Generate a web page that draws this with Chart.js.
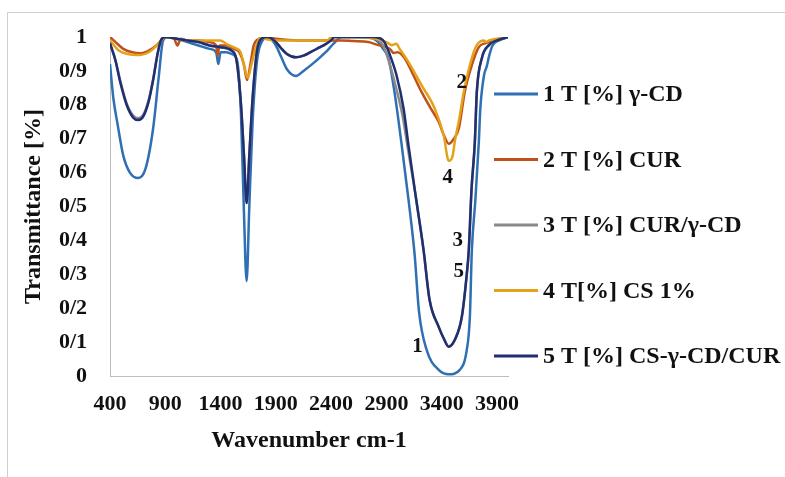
<!DOCTYPE html>
<html>
<head>
<meta charset="utf-8">
<script src="https://cdn.jsdelivr.net/npm/chart.js@4.4.1/dist/chart.umd.min.js"></script>
<style>
  html, body { margin: 0; padding: 0; background: #fff; }
  #wrap { width: 785px; height: 477px; position: relative; }
</style>
</head>
<body>
<div id="wrap"><canvas id="ftirChart"></canvas></div>
<script>
// FTIR spectra, transmittance vs wavenumber
const seriesNames = ['1 T [%] γ-CD', '2 T [%] CUR', '3 T [%] CUR/γ-CD', '4 T[%] CS 1%', '5 T [%] CS-γ-CD/CUR'];
const seriesColors = ['#2f6fb3', '#c0501a', '#8a8a8a', '#e3a21a', '#1f2f72'];

const xTicks = [400, 900, 1400, 1900, 2400, 2900, 3400, 3900];
const yTickLabels = ['0', '0/1', '0/2', '0/3', '0/4', '0/5', '0/6', '0/7', '0/8', '0/9', '1'];

// 1 - gamma-CD
const wnGammaCD = [400, 430, 470, 520, 580, 655, 720, 790, 840, 880, 920, 1000, 1100, 1200, 1300, 1360, 1380, 1400,
  1450, 1500, 1550, 1585, 1610, 1636, 1660, 1690, 1730, 1780, 1830, 1900, 1950, 2000, 2082, 2150, 2218, 2300,
  2380, 2420, 2500, 2600, 2700, 2780, 2827, 2870, 2918, 2973, 3035, 3100, 3155, 3195, 3264, 3373, 3464, 3564,
  3627, 3655, 3673, 3705, 3736, 3750, 3782, 3809, 3830, 3860, 3920, 4000];
const tGammaCD = [0.92, 0.82, 0.74, 0.65, 0.60, 0.584, 0.61, 0.73, 0.88, 0.99, 1.0, 0.995, 0.985, 0.975, 0.965, 0.955, 0.92, 0.955,
  0.955, 0.95, 0.93, 0.77, 0.5, 0.28, 0.5, 0.75, 0.93, 0.99, 1.0, 0.975, 0.94, 0.905, 0.885, 0.9, 0.917, 0.94,
  0.965, 0.98, 1.0, 1.0, 1.0, 0.995, 0.985, 0.965, 0.938, 0.838, 0.69, 0.52, 0.36, 0.19, 0.077, 0.018, 0.005, 0.018,
  0.077, 0.174, 0.37, 0.52, 0.69, 0.79, 0.885, 0.915, 0.945, 0.975, 0.99, 1.0];

// 2 - curcumin
const wnCur = [400, 450, 520, 600, 673, 750, 820, 880, 920, 980, 1010, 1040, 1100, 1200, 1300, 1360, 1373, 1390,
  1450, 1520, 1570, 1610, 1640, 1670, 1700, 1750, 1800, 1900, 2100, 2300, 2490, 2600, 2736, 2827, 2900, 2940,
  2964, 3000, 3064, 3140, 3218, 3300, 3373, 3420, 3464, 3510, 3555, 3609, 3673, 3736, 3800, 3900, 4000];
const tCur = [1.0, 0.985, 0.965, 0.955, 0.952, 0.96, 0.975, 0.995, 1.0, 0.995, 0.975, 0.995, 0.99, 0.99, 0.985, 0.975, 0.945, 0.975,
  0.975, 0.965, 0.955, 0.92, 0.873, 0.92, 0.975, 0.995, 1.0, 0.995, 0.99, 0.99, 0.99, 0.988, 0.985, 0.976, 0.97, 0.962,
  0.953, 0.955, 0.938, 0.89, 0.838, 0.79, 0.75, 0.71, 0.685, 0.70, 0.73, 0.838, 0.917, 0.97, 0.982, 0.99, 1.0];

// 3 - CUR/gamma-CD complex
const wnComplex = [400, 450, 490, 550, 610, 655, 700, 750, 790, 830, 860, 900, 1000, 1100, 1200, 1300, 1400, 1500,
  1545, 1585, 1612, 1636, 1660, 1690, 1730, 1770, 1830, 1900, 1945, 2000, 2082, 2150, 2218, 2300, 2336, 2400,
  2430, 2600, 2780, 2830, 2870, 2930, 2980, 3045, 3095, 3170, 3236, 3291, 3373, 3420, 3464, 3518, 3582, 3627,
  3645, 3670, 3700, 3718, 3764, 3827, 3900, 4000];
const tComplex = [0.98, 0.93, 0.875, 0.805, 0.768, 0.76, 0.77, 0.815, 0.875, 0.95, 0.99, 1.0, 0.995, 0.99, 0.985, 0.975, 0.97, 0.96,
  0.93, 0.8, 0.65, 0.51, 0.65, 0.82, 0.96, 0.995, 1.0, 0.985, 0.968, 0.95, 0.94, 0.945, 0.956, 0.97, 0.976, 0.99,
  1.0, 1.0, 1.0, 0.99, 0.975, 0.92, 0.86, 0.77, 0.67, 0.52, 0.372, 0.224, 0.145, 0.11, 0.088, 0.106, 0.174, 0.3,
  0.37, 0.55, 0.69, 0.838, 0.938, 0.976, 0.99, 1.0];

// 4 - chitosan 1%
const wnChitosan = [400, 480, 560, 673, 750, 827, 880, 900, 1000, 1100, 1200, 1300, 1400, 1450, 1530, 1580, 1610, 1645,
  1680, 1720, 1764, 1800, 1900, 2100, 2300, 2370, 2400, 2600, 2800, 2900, 2950, 2990, 3020, 3100, 3218, 3336,
  3418, 3464, 3500, 3518, 3560, 3600, 3673, 3718, 3782, 3800, 3830, 3900, 4000];
const tChitosan = [0.99, 0.96, 0.95, 0.947, 0.955, 0.976, 0.995, 1.0, 0.995, 0.99, 0.99, 0.99, 0.99, 0.98, 0.968, 0.956, 0.92, 0.88,
  0.92, 0.97, 1.0, 0.995, 0.99, 0.99, 0.99, 0.99, 1.0, 1.0, 0.995, 0.985, 0.976, 0.98, 0.965, 0.926, 0.858, 0.79,
  0.71, 0.635, 0.65, 0.69, 0.76, 0.838, 0.938, 0.976, 0.99, 0.985, 0.99, 0.995, 1.0];

// 5 - CS-gamma-CD/CUR
const wnComposite = [400, 450, 490, 550, 610, 655, 700, 750, 790, 830, 860, 900, 1000, 1100, 1200, 1300, 1400, 1500,
  1545, 1585, 1612, 1636, 1660, 1690, 1730, 1770, 1830, 1900, 1945, 2000, 2082, 2150, 2218, 2300, 2336, 2400,
  2430, 2600, 2780, 2850, 2882, 2940, 2991, 3055, 3100, 3170, 3236, 3291, 3373, 3420, 3464, 3518, 3582, 3627,
  3645, 3670, 3700, 3718, 3764, 3827, 3900, 4000];
const tComposite = [0.982, 0.93, 0.87, 0.8, 0.762, 0.755, 0.765, 0.81, 0.873, 0.95, 0.99, 1.0, 0.995, 0.99, 0.985, 0.975, 0.97, 0.96,
  0.93, 0.8, 0.65, 0.51, 0.65, 0.82, 0.96, 0.995, 1.0, 0.985, 0.968, 0.95, 0.94, 0.945, 0.956, 0.97, 0.976, 0.99,
  1.0, 1.0, 1.0, 0.995, 0.985, 0.94, 0.888, 0.79, 0.68, 0.52, 0.372, 0.224, 0.145, 0.11, 0.086, 0.106, 0.174, 0.3,
  0.37, 0.55, 0.69, 0.838, 0.938, 0.976, 0.99, 1.0];

// little curve numbers written on the big O-H band
const tagText = ['1', '2', '3', '4', '5'];
const tagWn = [3182, 3582, 3545, 3455, 3555];
const tagT = [0.088, 0.867, 0.40, 0.584, 0.307];

const serif = '"Liberation Serif", "Times New Roman", serif';
const wnSets = [wnGammaCD, wnCur, wnComplex, wnChitosan, wnComposite];
const tSets = [tGammaCD, tCur, tComplex, tChitosan, tComposite];

const datasets = seriesNames.map((name, i) => ({
  label: name,
  data: wnSets[i].map((w, k) => ({ x: w, y: tSets[i][k] })),
  borderColor: seriesColors[i],
  backgroundColor: seriesColors[i],
  borderWidth: 2.5,
  pointRadius: 0,
  cubicInterpolationMode: 'monotone',
  order: seriesNames.length - 1 - i
}));

const framePlugin = {
  id: 'frame',
  beforeDraw(chart) {
    const ctx = chart.ctx;
    ctx.save();
    ctx.strokeStyle = '#cfcfcf';
    ctx.lineWidth = 1;
    ctx.beginPath();
    ctx.moveTo(7.5, chart.height);
    ctx.lineTo(7.5, 12.5);
    ctx.lineTo(chart.width, 12.5);
    ctx.stroke();
    ctx.restore();
  }
};

const sideLegend = {
  id: 'sideLegend',
  afterDraw(chart) {
    const ctx = chart.ctx;
    const { x, y } = chart.scales;
    ctx.save();
    ctx.fillStyle = '#111';
    ctx.textBaseline = 'middle';
    ctx.font = 'bold 21px ' + serif;
    ctx.textAlign = 'center';
    tagText.forEach((t, i) => {
      ctx.fillText(t, x.getPixelForValue(tagWn[i]), y.getPixelForValue(tagT[i]));
    });

    ctx.font = 'bold 24px ' + serif;
    ctx.textAlign = 'left';
    chart.data.datasets.forEach((ds, i) => {
      const rowY = 94 + i * 65.5;
      ctx.strokeStyle = ds.borderColor;
      ctx.lineWidth = 3;
      ctx.beginPath();
      ctx.moveTo(494, rowY);
      ctx.lineTo(538, rowY);
      ctx.stroke();
      ctx.fillText(ds.label, 543, rowY + 1);
    });
    ctx.restore();
  }
};

new Chart(document.getElementById('ftirChart'), {
  type: 'line',
  data: { datasets },
  options: {
    responsive: true,
    maintainAspectRatio: false,
    animation: false,
    layout: { padding: { left: 0, top: 37, right: 277, bottom: 0 } },
    plugins: { legend: { display: false }, tooltip: { enabled: false } },
    scales: {
      x: {
        type: 'linear',
        min: 400,
        max: 4000,
        afterBuildTicks: s => { s.ticks = xTicks.map(v => ({ value: v })); },
        afterFit: s => { s.height = 101; },
        grid: { display: false, drawTicks: false },
        border: { display: true, color: '#bdbdbd', width: 1 },
        ticks: { padding: 15, color: '#111', font: { family: serif, size: 22, weight: 'bold' }, maxRotation: 0,
          callback: v => String(v) },
        title: { display: true, text: 'Wavenumber cm-1', color: '#111',
          font: { family: serif, size: 24, weight: 'bold' }, padding: { top: 0, bottom: 22 } }
      },
      y: {
        min: 0,
        max: 1,
        afterFit: s => { s.width = 110; },
        grid: { display: false, drawTicks: false },
        border: { display: true, color: '#bdbdbd', width: 1 },
        ticks: { stepSize: 0.1, padding: 23, color: '#111',
          font: { family: serif, size: 22, weight: 'bold' },
          callback: (v, idx) => yTickLabels[idx] },
        title: { display: true, text: 'Transmittance [%]', color: '#111',
          font: { family: serif, size: 24, weight: 'bold' }, padding: { top: 19, bottom: 0 } }
      }
    }
  },
  plugins: [framePlugin, sideLegend]
});
</script>
</body>
</html>
